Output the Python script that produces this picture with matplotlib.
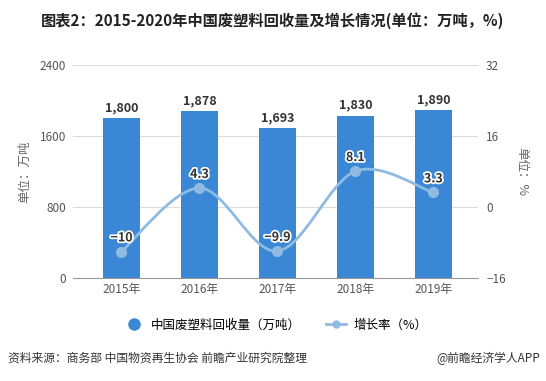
import numpy as np
import matplotlib
matplotlib.use('Agg')
import matplotlib.pyplot as plt
import matplotlib.patheffects as pe
from matplotlib.path import Path
from matplotlib.patches import PathPatch
from matplotlib.lines import Line2D

plt.rcParams['font.family'] = ['Noto Sans CJK SC', 'DejaVu Sans']

years = ['2015年', '2016年', '2017年', '2018年', '2019年']
volume = [1800, 1878, 1693, 1830, 1890]
growth = [-10, 4.3, -9.9, 8.1, 3.3]
growth_labels = ['−10', '4.3', '−9.9', '8.1', '3.3']

bar_color = '#3a87d6'
line_color = '#8fbbe3'
tick_color = '#555555'

fig = plt.figure(figsize=(5.46, 3.81), dpi=100)
ax = fig.add_axes([0.134, 0.270, 0.741, 0.559])
ax2 = ax.twinx()

x = np.arange(len(years))
ax.bar(x, volume, width=0.47, color=bar_color, zorder=2)
for xi, v in zip(x, volume):
    ax.text(xi, v + 45, f'{v:,}', ha='center', va='bottom', fontsize=9,
            fontweight='bold', color='#333333', zorder=5)

ax.set_ylim(0, 2400)
ax.set_yticks([0, 800, 1600, 2400])
ax.set_xlim(-0.62, 4.57)
ax.set_xticks(x)
ax.set_xticklabels(years)
ax.grid(axis='y', color='#dddddd', linewidth=0.8, zorder=0)
ax.set_axisbelow(True)
for s in ['top', 'left', 'right']:
    ax.spines[s].set_visible(False)
ax.spines['bottom'].set_color('#999999')
ax.tick_params(axis='both', length=0, colors=tick_color, labelsize=8.5)
ax.tick_params(axis='y', pad=5)
ax.set_ylabel('单位：万吨', color='#666666', fontsize=9, labelpad=6)

# smooth line through the points (Catmull-Rom as bezier segments)
ax2.set_ylim(-16, 32)
ax2.set_yticks([-16, 0, 16, 32])
pts = np.column_stack([x, growth]).astype(float)
verts = [tuple(pts[0])]
codes = [Path.MOVETO]
for i in range(len(pts) - 1):
    p0 = pts[i - 1] if i > 0 else pts[i]
    p1, p2 = pts[i], pts[i + 1]
    p3 = pts[i + 2] if i + 2 < len(pts) else pts[i + 1]
    c1 = p1 + (p2 - p0) / 6
    c2 = p2 - (p3 - p1) / 6
    verts += [tuple(c1), tuple(c2), tuple(p2)]
    codes += [Path.CURVE4] * 3
ax2.add_patch(PathPatch(Path(verts, codes), facecolor='none',
                        edgecolor=line_color, linewidth=2, zorder=3))
ax2.plot(x, growth, 'o', color=line_color, markersize=7, zorder=4)
for xi, g, lab in zip(x, growth, growth_labels):
    ax2.text(xi, g + 1.6, lab, ha='center', va='bottom', fontsize=9,
             fontweight='bold', color='#333333', zorder=5,
             path_effects=[pe.withStroke(linewidth=2.5, foreground='white')])
for s in ['top', 'left', 'right', 'bottom']:
    ax2.spines[s].set_visible(False)
ax2.tick_params(axis='y', length=0, colors=tick_color, labelsize=8.5, pad=6)
ax2.set_ylabel('单位：%', color='#666666', fontsize=9, rotation=-90, labelpad=16)

fig.text(0.5, 0.945, '图表2：2015-2020年中国废塑料回收量及增长情况(单位：万吨，%)',
         ha='center', va='center', fontsize=11, fontweight='bold', color='#222222')

handles = [
    Line2D([], [], marker='o', linestyle='none', color=bar_color, markersize=8),
    Line2D([], [], marker='o', color=line_color, linewidth=2, markersize=5),
]
fig.legend(handles, ['中国废塑料回收量（万吨）', '增长率（%）'], loc='center',
           bbox_to_anchor=(0.505, 0.147), ncol=2, frameon=False, fontsize=9,
           handlelength=1.6, columnspacing=2.0, handletextpad=0.6)

fig.text(0.015, 0.06, '资料来源：商务部 中国物资再生协会 前瞻产业研究院整理',
         ha='left', va='center', fontsize=8.5, color='#333333')
fig.text(0.99, 0.06, '@前瞻经济学人APP', ha='right', va='center',
         fontsize=8.5, color='#333333')

fig.savefig('out.png', dpi=100, facecolor='white')
